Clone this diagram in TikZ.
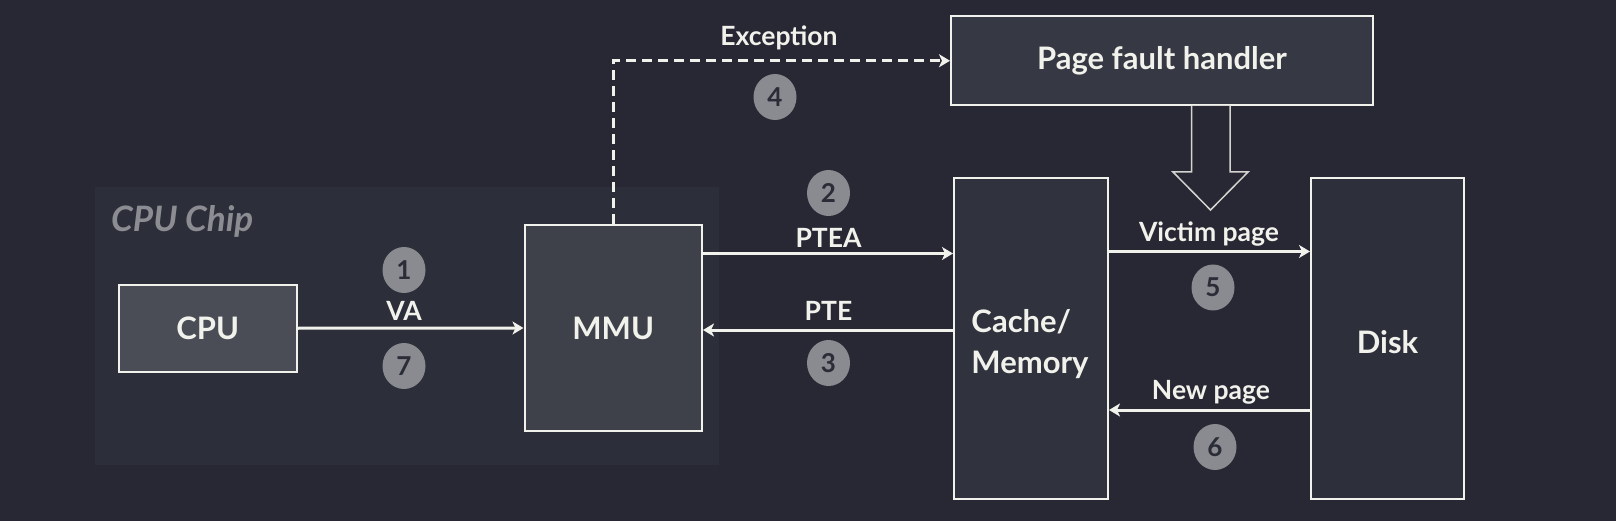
\documentclass[tikz,border=0pt]{standalone}
\usepackage{fontspec}
\setmainfont{Lato}
\usetikzlibrary{arrows.meta,shapes.geometric}
\definecolor{bgc}{HTML}{272833}
\definecolor{chipc}{HTML}{2C2E3A}
\definecolor{chiptext}{HTML}{8C8D93}
\definecolor{linec}{HTML}{F2F2EC}
\definecolor{cpuc}{HTML}{4A4C56}
\definecolor{mmuc}{HTML}{3E404A}
\definecolor{pfhc}{HTML}{363844}
\definecolor{cachec}{HTML}{30323E}
\definecolor{diskc}{HTML}{2D2F3B}
\definecolor{badgec}{HTML}{8A8B90}
\definecolor{badgetext}{HTML}{2A2C37}
\tikzset{
  boxnode/.style={draw=linec, line width=2pt, inner sep=0pt, text=linec, font=\fontsize{31}{41}\selectfont\bfseries, align=left},
  flow/.style={draw=linec, line width=3pt, -{Stealth[length=11pt,width=13pt,inset=3pt]}},
  lbl/.style={text=linec, font=\fontsize{26.5}{30}\selectfont\bfseries, inner sep=0pt},
  badge/.style={ellipse, fill=badgec, minimum width=43pt, minimum height=46pt, inner sep=0pt, text=badgetext, font=\fontsize{26}{30}\selectfont\bfseries}
}
\begin{document}
\begin{tikzpicture}[x=1pt,y=-1pt]
\fill[bgc] (0,0) rectangle (1616,521);
\useasboundingbox (0,0) rectangle (1616,521);
\fill[chipc] (95,187) rectangle (719,465);
\node[anchor=west, text=chiptext, font=\fontsize{35}{40}\selectfont\bfseries\itshape, inner sep=0pt] (chiplbl) at (111,221) {CPU Chip};

\node[boxnode, fill=cpuc, minimum width=178.5pt, minimum height=87.5pt] (cpu) at (207.75,328.25) {CPU};
\node[boxnode, fill=mmuc, minimum width=177.5pt, minimum height=206pt] (mmu) at (613.25,328) {MMU};
\node[boxnode, fill=pfhc, minimum width=422pt, minimum height=88.5pt] (pfh) at (1162,60.75) {Page fault handler};
\node[boxnode, fill=cachec, minimum width=154pt, minimum height=321pt] (cache) at (1031,338.5) {};
\node[text=linec, font=\fontsize{31}{41}\selectfont\bfseries, align=left, inner sep=0pt] (cachelbl) at (1030,344) {Cache/\\Memory};
\node[boxnode, fill=diskc, minimum width=153pt, minimum height=321pt] (disk) at (1387.5,338.5) {};
\node[text=linec, font=\fontsize{31}{41}\selectfont\bfseries, inner sep=0pt] (disklbl) at (1387.5,342) {Disk};

% VA
\draw[flow] (cpu.east) -- (mmu.west);
% PTEA
\path ([yshift=74.5pt]mmu.east) coordinate (ptea0);
\draw[flow] (ptea0) -- (ptea0 -| cache.west);
% PTE
\path ([yshift=-2pt]mmu.east) coordinate (pte0);
\draw[flow] (pte0 -| cache.west) -- (pte0);
% Victim page
\path ([yshift=87pt]cache.east) coordinate (vic0);
\draw[flow] (vic0) -- (vic0 -| disk.west);
% New page
\path ([yshift=-71.5pt]cache.east) coordinate (new0);
\draw[flow] (new0 -| disk.west) -- (new0);
% Exception
\draw[flow, dash pattern=on 10pt off 6pt] (mmu.north) |- (pfh.west);

% hollow arrow
\draw[draw=linec!85!bgc, fill=bgc, line width=1.5pt, line join=miter]
  (1191.5,106) -- (1191.5,172) -- (1173,172) -- (1210.5,210) -- (1248,172) -- (1230,172) -- (1230,106);

% labels
\node[lbl] (lva) at (404,311) {VA};
\node[lbl] (lptea) at (828.5,238) {PTEA};
\node[lbl] (lpte) at (828.5,311) {PTE};
\node[lbl] (lexc) at (779,38) {Exception};
\node[lbl] (lvic) at (1209,234) {Victim page};
\node[lbl] (lnew) at (1211,392) {New page};

% badges
\node[badge] (b1) at (404,270) {1};
\node[badge] (b7) at (404,366) {7};
\node[badge] (b2) at (828.5,193) {2};
\node[badge] (b3) at (828.5,363) {3};
\node[badge] (b4) at (775,97) {4};
\node[badge] (b5) at (1213,287.5) {5};
\node[badge] (b6) at (1215,447) {6};
\end{tikzpicture}
\end{document}
